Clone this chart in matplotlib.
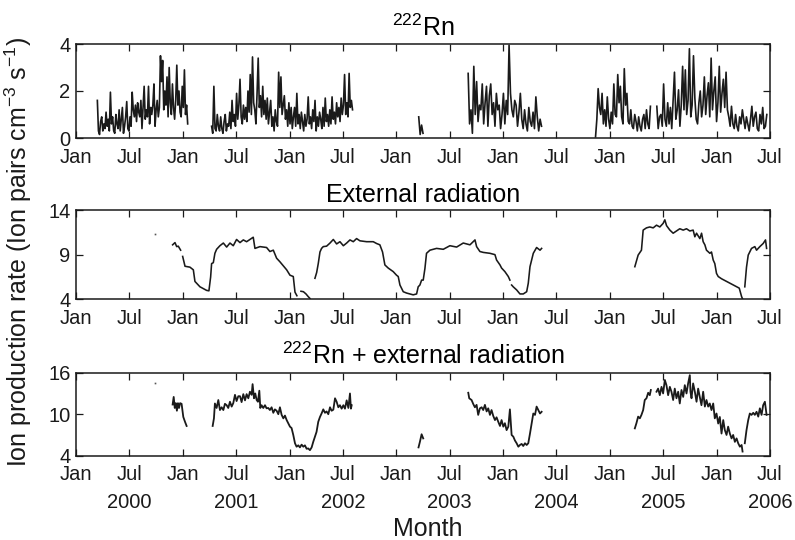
import numpy as np
import matplotlib
matplotlib.use('Agg')
import matplotlib.pyplot as plt
import matplotlib.transforms as mtransforms

plt.rcParams['font.family'] = ['Liberation Sans', 'DejaVu Sans']
plt.rcParams['mathtext.fontset'] = 'custom'
plt.rcParams['mathtext.rm'] = 'Liberation Sans'
plt.rcParams['mathtext.it'] = 'Liberation Sans:italic'
plt.rcParams['mathtext.bf'] = 'Liberation Sans:bold'

# ---------------- data ----------------
# 222Rn: segments (start year, end year) and values (regular sampling inside a segment)
rn_starts = [2000.20, 2001.27, 2003.21, 2003.673, 2004.866, 2005.44]
rn_ends = [2001.046, 2002.59, 2003.25, 2004.36, 2005.38, 2006.47]
rn_seg1 = [1.6, 0.3, 0.15, 0.7, 0.9, 0.3, 0.6, 0.4, 1.1, 0.5, 0.8, 0.3, 1.95, 0.6, 0.9, 0.3,
           0.2, 1.0, 0.6, 0.4, 1.2, 0.3, 0.8, 1.3, 0.2, 0.5, 0.9, 1.55, 0.4, 0.3, 0.9, 0.5,
           1.95, 1.2, 0.9, 1.4, 0.7, 1.5, 1.1, 0.9, 1.6, 0.4, 1.3, 2.2, 0.8, 1.2, 0.9, 2.2,
           0.6, 1.3, 1.0, 1.4, 2.3, 0.5, 1.2, 1.6, 0.9, 1.3, 3.5, 2.4, 3.3, 1.2, 2.0, 1.4,
           2.6, 0.9, 3.0, 1.5, 1.0, 2.3, 1.3, 0.8, 1.6, 3.1, 1.4, 2.0, 1.1, 0.9, 2.2, 1.3,
           2.9, 1.0, 1.4, 0.6]
rn_seg2 = [0.5, 0.2, 2.2, 0.4, 0.3, 1.0, 0.5, 0.3, 0.9, 0.4, 0.2, 0.7,
           1.0, 0.3, 0.6, 0.5, 1.1, 0.4, 1.6, 0.7, 1.0, 0.5, 1.9, 0.8, 1.4, 2.5, 0.9, 0.6,
           1.4, 0.8, 1.3, 0.7,
           2.0, 1.1, 2.7, 1.0, 3.45, 1.5, 1.2, 0.6, 1.9, 3.4, 1.3, 1.8, 0.9, 2.2, 1.0, 1.6,
           0.8, 1.7, 0.6, 1.1, 1.6, 0.5, 0.9, 0.3, 1.2, 0.7, 0.5, 2.8, 1.3, 2.6, 1.0, 1.4,
           1.8, 0.8, 1.2, 0.5, 1.5,
           0.6, 1.3, 0.4, 0.9, 1.3, 0.5, 1.9, 0.6, 1.0, 0.4, 1.1, 0.7, 0.3, 1.0, 0.5, 0.8,
           1.75, 0.6, 0.9, 0.4, 1.2, 0.7, 1.6, 0.3, 0.9, 0.5, 1.1, 0.8, 0.4, 1.3,
           0.5, 1.7, 0.7, 1.0, 0.5, 1.2, 0.6, 1.75, 0.8, 1.1, 0.6, 1.5, 0.9, 1.3, 0.7, 1.7,
           1.0, 1.4, 2.7, 1.0, 1.5, 0.9, 2.75, 1.3, 1.6, 1.2]
rn_seg_small = [0.9, 0.15, 0.55, 0.2]
rn_seg3 = [2.75, 0.6, 1.2, 0.2, 3.05, 1.0, 2.4, 0.7, 1.4, 1.2, 2.3, 0.6, 1.5, 2.2, 0.5, 1.8,
           2.3, 1.0, 1.5, 0.5, 1.9, 1.2, 1.4, 0.4, 1.0, 1.9, 0.6, 1.6, 1.0, 3.95, 1.9, 1.2,
           0.9, 1.6, 1.4, 0.5, 1.1, 1.9, 0.8, 0.4, 1.2, 0.6, 0.3, 1.3, 0.7, 0.5, 1.1, 0.4,
           1.75, 0.9, 0.3, 0.8, 0.5]
rn_seg4a = [0.05, 0.8, 2.1, 1.3, 1.0, 1.9, 0.6, 1.2, 0.5, 1.75, 0.8, 0.4, 1.1, 0.6, 2.3, 1.0,
            0.9, 2.7, 1.5, 2.2, 0.9, 0.6, 2.95, 1.4, 1.9, 0.7, 0.6, 1.2, 0.5, 0.4, 1.0, 0.7,
            0.3, 0.9, 0.5, 0.3, 0.8, 1.0, 0.4, 1.2, 0.6, 0.4, 1.35]
rn_seg4b = [1.35, 0.4, 0.9, 1.0, 0.5, 2.3, 0.8, 0.5, 1.5, 0.6, 1.3, 0.4, 1.6, 2.8, 0.8, 1.2,
            2.05, 0.5, 1.4, 3.05, 1.2, 2.9, 1.0, 1.6, 3.8, 0.9, 1.4, 3.5, 1.7, 0.8, 0.6, 1.5,
            2.0, 0.9, 1.4, 2.6, 1.0, 1.8, 2.35, 0.9, 3.4, 1.2, 2.0, 2.6, 0.7, 1.5, 3.05, 1.1,
            1.9, 2.5, 1.3, 2.8, 1.2, 0.9, 0.5, 1.35, 0.6, 0.4, 1.0, 0.5, 0.3, 0.9, 0.6, 1.2,
            0.8, 0.4, 0.9, 0.6, 0.3, 0.8, 1.35, 0.5, 0.9, 1.1, 0.4, 0.3, 1.0, 0.6, 1.3, 0.4,
            0.5, 1.0]
rn_values = [rn_seg1, rn_seg2, rn_seg_small, rn_seg3, rn_seg4a, rn_seg4b]

# External radiation (decimal year, value); NaN marks a gap
ext_t = [2000.905, 2000.927, 2000.943, 2000.958, 2000.980, np.nan,
         2000.999, 2001.021, 2001.067, 2001.099, 2001.114, 2001.161, 2001.223, 2001.245,
         2001.261, 2001.270, 2001.286, 2001.301, 2001.317, 2001.348, 2001.380, 2001.411,
         2001.442, 2001.473, 2001.504, 2001.536, 2001.567, 2001.598, 2001.629, 2001.660,
         2001.676, 2001.723, 2001.785, 2001.816, 2001.848, 2001.879, 2001.910, 2001.973,
         2002.004, 2002.035, 2002.051, 2002.069, np.nan,
         2002.107, 2002.130, 2002.154, 2002.175, 2002.191, np.nan,
         2002.238, 2002.254, 2002.269, 2002.285, 2002.300, 2002.316, 2002.347, 2002.379,
         2002.410, 2002.441, 2002.472, 2002.504, 2002.535, 2002.566, 2002.597, 2002.628,
         2002.659, 2002.722, 2002.784, 2002.815, 2002.846, 2002.871, 2002.893, 2002.924,
         2002.971, 2003.002, 2003.018, 2003.034, 2003.065, 2003.096, 2003.127, 2003.158,
         2003.190, 2003.205, 2003.221, 2003.237, 2003.252, 2003.268, 2003.283, 2003.315,
         2003.377, 2003.440, 2003.502, 2003.565, 2003.627, 2003.690, 2003.737, 2003.752,
         2003.783, 2003.815, 2003.877, 2003.924, 2003.939, 2003.971, 2003.986, 2004.017,
         2004.049, 2004.064, np.nan,
         2004.080, 2004.095, 2004.127, 2004.158, 2004.189, 2004.221, 2004.236, 2004.252,
         2004.283, 2004.314, 2004.346, 2004.361, np.nan,
         2005.234, 2005.265, 2005.296, 2005.312, 2005.343, 2005.374, 2005.406, 2005.437,
         2005.468, 2005.499, 2005.515, 2005.531, 2005.562, 2005.593, 2005.624, 2005.655,
         2005.687, 2005.718, 2005.749, 2005.780, 2005.796, 2005.812, 2005.843, 2005.859,
         2005.874, 2005.890, 2005.905, 2005.937, 2005.952, 2005.968, 2005.983, 2005.999,
         2006.015, 2006.046, 2006.093, 2006.140, 2006.187, 2006.212, 2006.234, 2006.243,
         np.nan,
         2006.264, 2006.280, 2006.296, 2006.327, 2006.358, 2006.374, 2006.405, 2006.436,
         2006.458, 2006.468]
ext_v = [10.1, 10.35, 9.9, 9.95, 9.5, np.nan,
         8.8, 7.7, 7.6, 7.3, 6.0, 5.4, 5.0, 4.95,
         6.5, 8.0, 8.1, 9.15, 9.6, 10.0, 10.3, 9.85,
         10.3, 10.0, 10.7, 10.35, 10.65, 10.45, 10.7, 10.95,
         9.7, 9.9, 9.8, 9.35, 9.5, 8.6, 8.2, 7.3,
         6.7, 6.55, 4.8, 4.4, np.nan,
         4.9, 4.85, 4.6, 4.3, 4.1, np.nan,
         6.35, 7.0, 8.0, 9.3, 9.7, 9.9, 9.95, 10.3,
         10.7, 10.2, 10.45, 10.0, 10.3, 10.65, 10.45, 10.8,
         10.55, 10.45, 10.45, 10.25, 10.1, 9.3, 7.85, 7.5,
         7.1, 6.7, 6.55, 5.6, 4.85, 4.7, 4.6, 4.5,
         4.6, 5.4, 5.6, 6.15, 6.15, 7.45, 9.15, 9.5,
         9.7, 9.6, 10.0, 9.85, 10.3, 10.1, 10.65, 9.9,
         9.35, 9.25, 9.15, 9.0, 8.4, 7.85, 7.5, 7.1,
         6.55, 6.15, np.nan,
         5.6, 5.4, 5.05, 4.6, 4.6, 4.85, 5.8, 7.65,
         9.15, 9.8, 9.5, 9.7, np.nan,
         7.65, 8.95, 9.5, 11.75, 12.0, 12.1, 12.0, 12.3,
         12.1, 12.5, 12.9, 12.25, 11.75, 11.4, 11.65, 11.9,
         11.75, 11.9, 11.65, 11.75, 11.0, 11.4, 10.8, 11.4,
         10.45, 10.1, 9.5, 9.15, 9.3, 8.4, 8.0, 6.9,
         6.55, 6.3, 6.0, 5.7, 5.4, 5.25, 4.3, 4.05,
         np.nan,
         5.4, 7.6, 8.95, 9.7, 9.9, 9.5, 9.9, 10.25,
         10.65, 9.7]
ext_dot_t = [2000.74]
ext_dot_v = [11.27]

# 222Rn + external radiation (decimal year, value); NaN marks a gap
comb_t = [2000.905, 2000.915, 2000.925, 2000.935, 2000.945, 2000.955, 2000.965, 2000.975,
          2000.989, 2001.005, 2001.021, 2001.036, np.nan,
          2001.280, 2001.292, 2001.301, 2001.317, 2001.333, 2001.348, 2001.364, 2001.380,
          2001.395, 2001.411, 2001.426, 2001.442, 2001.458, 2001.473, 2001.489, 2001.504,
          2001.520, 2001.536, 2001.551, 2001.567, 2001.583, 2001.598, 2001.614, 2001.629,
          2001.645, 2001.654, 2001.667, 2001.679, 2001.692, 2001.704, 2001.717, 2001.726,
          2001.738, 2001.754, 2001.770, 2001.785, 2001.801, 2001.816, 2001.832, 2001.848,
          2001.863, 2001.879, 2001.895, 2001.910, 2001.926, 2001.942, 2001.957, 2001.973,
          2001.988, 2002.004, 2002.019, 2002.035, 2002.051, 2002.066, 2002.082, 2002.097,
          2002.113, 2002.129, 2002.144, 2002.160, 2002.175, 2002.191, 2002.207, 2002.222,
          2002.238, 2002.253, 2002.269, 2002.285, 2002.300, 2002.316, 2002.332, 2002.347,
          2002.363, 2002.379, 2002.394, 2002.410, 2002.426, 2002.441, 2002.457, 2002.472,
          2002.488, 2002.504, 2002.519, 2002.535, 2002.551, 2002.566, 2002.575, 2002.582,
          np.nan,
          2003.208, 2003.221, 2003.237, 2003.252, np.nan,
          2003.674, 2003.683, 2003.705, 2003.720, 2003.736, 2003.752, 2003.767, 2003.783,
          2003.799, 2003.814, 2003.830, 2003.846, 2003.861, 2003.877, 2003.892, 2003.908,
          2003.924, 2003.939, 2003.955, 2003.971, 2003.986, 2004.002, 2004.017, 2004.033,
          2004.049, 2004.064, 2004.080, 2004.096, 2004.111, 2004.127, 2004.143, 2004.158,
          2004.174, 2004.189, 2004.205, 2004.221, 2004.236, 2004.252, 2004.268, 2004.283,
          2004.299, 2004.314, 2004.330, 2004.346, 2004.361, np.nan,
          2005.234, 2005.249, 2005.265, 2005.281, 2005.296, 2005.312, 2005.327, 2005.343,
          2005.359, 2005.374, 2005.384, np.nan,
          2005.437, 2005.452, 2005.468, 2005.484, 2005.499, 2005.515, 2005.530, 2005.546,
          2005.562, 2005.577, 2005.593, 2005.608, 2005.624, 2005.640, 2005.655, 2005.671,
          2005.687, 2005.702, 2005.718, 2005.733, 2005.749, 2005.755, 2005.765, 2005.780,
          2005.796, 2005.812, 2005.827, 2005.843, 2005.858, 2005.874, 2005.890, 2005.905,
          2005.921, 2005.936, 2005.952, 2005.968, 2005.983, 2005.999, 2006.015, 2006.030,
          2006.046, 2006.062, 2006.077, 2006.093, 2006.108, 2006.124, 2006.140, 2006.155,
          2006.171, 2006.187, 2006.202, 2006.218, 2006.234, 2006.243, np.nan,
          2006.264, 2006.280, 2006.296, 2006.311, 2006.327, 2006.343, 2006.358, 2006.374,
          2006.390, 2006.405, 2006.421, 2006.436, 2006.452, 2006.468]
comb_v = [11.4, 12.5, 10.9, 11.6, 10.5, 11.6, 10.9, 11.6,
          11.5, 9.6, 8.9, 8.3, np.nan,
          8.3, 9.4, 11.55, 10.9, 12.05, 10.6, 11.0, 10.6,
          11.5, 11.3, 10.9, 11.8, 11.1, 11.6, 12.8, 11.9,
          12.6, 12.6, 11.75, 12.9, 12.0, 12.9, 12.3, 13.25,
          12.8, 14.35, 12.3, 13.0, 12.05, 11.8, 13.4, 10.9,
          11.3, 10.9, 11.3, 10.85, 10.9, 10.6, 11.0, 10.2,
          10.7, 10.5, 10.0, 11.0, 9.9, 9.4, 9.8, 9.15,
          8.7, 8.2, 8.0, 7.0, 5.8, 5.3, 5.5, 5.2,
          5.6, 5.3, 5.5, 5.0, 5.05, 4.8, 5.2, 6.0,
          6.75, 7.45, 8.9, 9.6, 10.1, 10.7, 10.2, 10.4,
          10.0, 11.0, 10.5, 10.65, 12.3, 11.8, 11.0, 11.3,
          10.8, 11.3, 10.8, 12.0, 10.9, 13.0, 10.8, 11.3,
          np.nan,
          5.2, 6.0, 7.1, 6.5, np.nan,
          13.1, 12.3, 12.05, 11.5, 11.0, 11.35, 9.9, 10.85,
          11.0, 10.6, 11.35, 10.4, 10.85, 9.9, 10.6, 9.75,
          9.15, 9.55, 8.9, 8.3, 9.15, 8.2, 8.7, 7.7,
          8.2, 10.7, 7.0, 6.75, 6.2, 5.8, 5.3, 5.55,
          5.7, 5.4, 5.8, 5.55, 5.8, 7.2, 8.7, 10.1,
          9.9, 11.1, 10.6, 10.1, 10.35, np.nan,
          7.95, 8.7, 9.65, 9.4, 9.9, 10.6, 12.05, 12.3,
          13.1, 12.75, 13.5, np.nan,
          13.25, 13.7, 12.75, 13.95, 13.0, 14.95, 14.2, 12.75,
          13.95, 13.25, 12.05, 13.7, 12.3, 13.25, 11.55, 13.5,
          12.5, 14.2, 13.0, 14.45, 15.65, 13.25, 12.3, 14.45,
          13.25, 11.8, 13.7, 12.5, 11.3, 13.25, 11.1, 12.05,
          11.1, 11.55, 10.6, 11.55, 9.4, 10.1, 8.65, 9.6,
          7.2, 9.15, 7.7, 7.0, 8.2, 7.2, 6.5, 7.0,
          6.0, 6.5, 5.8, 5.3, 5.55, 4.6, np.nan,
          5.8, 7.7, 9.15, 10.1, 9.9, 10.2, 9.9, 10.35,
          9.65, 10.85, 9.9, 11.3, 11.8, 9.9]
comb_dot_t = [2000.74]
comb_dot_v = [14.5]

titles = [r'$^{222}$Rn', 'External radiation', r'$^{222}$Rn + external radiation']
y_ticks = [[0, 2, 4], [4, 9, 14], [4, 10, 16]]
x_ticks = [2000 + 0.5 * i for i in range(14)]
x_ticklabels = ['Jan', 'Jul'] * 7
years = [2000, 2001, 2002, 2003, 2004, 2005, 2006]
ylabel = r'Ion production rate (Ion pairs cm$^{-3}$ s$^{-1}$)'
xlabel = 'Month'

# ---------------- figure ----------------
W, H = 795, 540
fig = plt.figure(figsize=(W / 100, H / 100), dpi=100)


def box(left, top, right, bottom):
    return [left / W, 1 - bottom / H, (right - left) / W, (bottom - top) / H]


ax1 = fig.add_axes(box(76, 44, 770, 138))
ax2 = fig.add_axes(box(76, 210, 770, 299.3))
ax3 = fig.add_axes(box(76, 372.7, 770, 455.7))
axes = [ax1, ax2, ax3]
ink = '#1a1a1a'

rn_t_all, rn_v_all = [], []
for s, e, vals in zip(rn_starts, rn_ends, rn_values):
    rn_t_all.extend(list(np.linspace(s, e, len(vals))) + [np.nan])
    rn_v_all.extend(list(vals) + [np.nan])
ax1.plot(rn_t_all, rn_v_all, color=ink, lw=1.2)

ax2.plot(ext_t, ext_v, color=ink, lw=1.15)
ax2.plot(ext_dot_t, ext_dot_v, 's', ms=1.2, color='#555555', mew=0)
ax3.plot(comb_t, comb_v, color=ink, lw=1.3)
ax3.plot(comb_dot_t, comb_dot_v, 's', ms=1.2, color='#555555', mew=0)

for ax, title, yt in zip(axes, titles, y_ticks):
    ax.set_xlim(2000, 2006.5)
    ax.set_ylim(yt[0], yt[-1])
    ax.set_yticks(yt)
    ax.set_xticks(x_ticks)
    ax.set_xticklabels(x_ticklabels)
    ax.set_title(title, fontsize=18, pad=6)
    ax.tick_params(direction='in', top=True, right=True, length=5, width=0.9,
                   labelsize=14.5, pad=7, colors=ink)
    ax.tick_params(axis='y', pad=4)
    for sp in ax.spines.values():
        sp.set_linewidth(1.1)
        sp.set_color(ink)

trans = mtransforms.blended_transform_factory(ax3.transData, fig.transFigure)
for yr in years:
    ax3.text(yr + 0.5, 1 - 503 / H, str(yr), transform=trans, ha='center', va='center',
             fontsize=14.5, color=ink)

fig.text(428 / W, 1 - 529 / H, xlabel, ha='center', va='center', fontsize=18, color=ink)
fig.text(18 / W, 1 - 252 / H, ylabel, ha='center', va='center', rotation=90,
         fontsize=18, color=ink)

fig.savefig('out.png', dpi=100)
